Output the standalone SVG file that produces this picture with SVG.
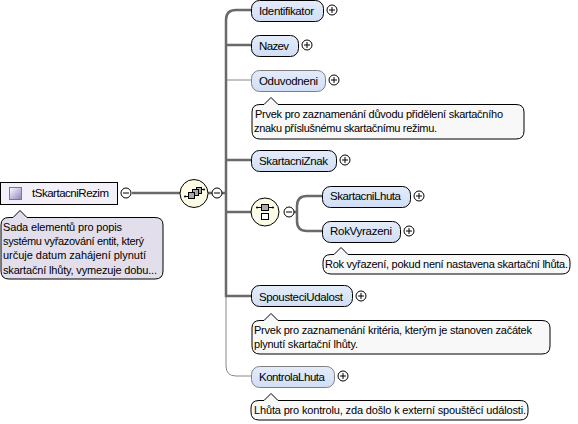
<svg xmlns="http://www.w3.org/2000/svg" width="578" height="424" viewBox="0 0 578 424">
<defs>
<linearGradient id="ic" x1="0" y1="0" x2="1" y2="1"><stop offset="0" stop-color="#ffffff"/><stop offset="1" stop-color="#9080c0"/></linearGradient>
<linearGradient id="el" x1="0" y1="0" x2="0" y2="1"><stop offset="0" stop-color="#e4ecfa"/><stop offset="1" stop-color="#d0def5"/></linearGradient>
<g id="plus"><circle r="5" fill="#fff" stroke="#000"/><path d="M-3 0H3M0-3V3" stroke="#000" fill="none"/></g>
<g id="minus"><circle r="5" fill="#fff" stroke="#000"/><path d="M-3 0H3" stroke="#000" fill="none"/></g>
</defs>
<style>
text{font-family:"Liberation Sans",Arial,sans-serif;font-size:11.5px;fill:#000}
text.d{font-size:11px}
.n{fill:url(#el);stroke:#000;stroke-width:1}
.o{fill:url(#el);stroke:#808080;stroke-width:1}
.bub{fill:#f8f8f8;stroke:#000;stroke-width:1}
.w{fill:none;stroke:#6a6a6a;stroke-width:2.500}
.t{fill:none;stroke:#888;stroke-width:1}
.c{fill:#fbfbe6;stroke:#000}
</style>
<rect width="578" height="424" fill="#fff"/>
<g id="connectors">
<path class="t" d="M226 80H251M226 296V366Q226 376 236 376H251"/>
<path class="w" d="M132 193H180M208 193H226"/>
<path class="w" d="M251 10H236Q226 10 226 20V296H251"/>
<path class="w" d="M226 45H251M226 160H251M226 212H251"/>
<path class="w" d="M322 196H307Q297 196 297 206V221Q297 231 307 231H322M294 212H297"/>
</g>
<g id="tSkartacniRezim">
<rect x="0.5" y="182.500" width="117" height="22" fill="#f4f0fa" stroke="#000"/>
<rect x="9.500" y="187.500" width="12" height="12" fill="url(#ic)" stroke="#8070b0"/>
<text x="32" y="197" textLength="77">tSkartacniRezim</text>
<use href="#minus" x="126" y="193"/>
<path d="M9 217.500H13L20 210.500L27 217.500H155Q163 217.500 163 225V271Q163 279 155 279H9Q1 279 1 271V225Q1 217.500 9 217.500Z" fill="#e3deeb" stroke="#000"/>
<text class="d" x="3" y="231" textLength="119">Sada elementů pro popis</text>
<text class="d" x="3" y="245" textLength="141">systému vyřazování entit, který</text>
<text class="d" x="3" y="259" textLength="143">určuje datum zahájení plynutí</text>
<text class="d" x="3" y="274" textLength="154">skartační lhůty, vymezuje dobu...</text>
</g>
<g id="choice-all">
<circle class="c" cx="194" cy="193.500" r="14"/>
<path d="M185 196.500H190M199 189.500H204" stroke="#000"/>
<circle cx="185" cy="196.500" r="1"/><circle cx="204" cy="189.500" r="1"/>
<rect x="196.500" y="187.500" width="5" height="6" fill="#aaa" stroke="#000"/>
<rect x="192.500" y="189.500" width="6" height="6" fill="#aaa" stroke="#000"/>
<rect x="188.500" y="192.500" width="6" height="6" fill="#aaa" stroke="#000"/>
<use href="#minus" x="217" y="193"/>
</g>
<g id="Identifikator"><rect class="n" x="251.500" y="0.500" width="72" height="21" rx="8"/><text x="259" y="15" textLength="55">Identifikator</text><use href="#plus" x="332" y="10"/></g>
<g id="Nazev"><rect class="n" x="251.500" y="35.500" width="47" height="21" rx="8"/><text x="259" y="50" textLength="30">Nazev</text><use href="#plus" x="307" y="45"/></g>
<g id="Oduvodneni"><rect class="o" x="251.500" y="70.500" width="74" height="21" rx="8"/><text x="259" y="85" textLength="59">Oduvodneni</text><use href="#plus" x="334" y="80"/>
<path class="bub" d="M260 104.500H264L271 97.500L278 104.500H516Q524 104.500 524 112V131Q524 139 516 139H260Q252 139 252 131V112Q252 104.500 260 104.500Z"/>
<text class="d" x="255" y="118" textLength="248">Prvek pro zaznamenání důvodu přidělení skartačního</text>
<text class="d" x="254" y="132" textLength="183">znaku příslušnému skartačnímu režimu.</text></g>
<g id="SkartacniZnak"><rect class="n" x="251.500" y="150.500" width="85" height="21" rx="8"/><text x="259" y="165" textLength="69">SkartacniZnak</text><use href="#plus" x="345" y="160"/></g>
<g id="sequence">
<circle class="c" cx="265" cy="212" r="14"/>
<path d="M257 207.500H273" stroke="#000"/>
<circle cx="257" cy="207.500" r="1"/><circle cx="273" cy="207.500" r="1"/>
<rect x="261.500" y="204.500" width="7" height="6" fill="#aaa" stroke="#000"/>
<rect x="261.500" y="213.500" width="7" height="6" fill="#fff" stroke="#000"/>
<use href="#minus" x="289" y="212"/>
</g>
<g id="SkartacniLhuta"><rect class="n" x="322.500" y="186.500" width="88" height="21" rx="8"/><text x="330" y="200" textLength="71">SkartacniLhuta</text><use href="#plus" x="419" y="196"/></g>
<g id="RokVyrazeni"><rect class="n" x="322.500" y="221.500" width="78" height="21" rx="8"/><text x="330" y="235" textLength="62">RokVyrazeni</text><use href="#plus" x="409" y="231"/>
<path class="bub" d="M331 254.500H334L341 247.500L348 254.500H562Q570 254.500 570 262V266Q570 274 562 274H331Q323 274 323 266V262Q323 254.500 331 254.500Z"/>
<text class="d" x="325" y="268" textLength="243">Rok vyřazení, pokud není nastavena skartační lhůta.</text></g>
<g id="SpousteciUdalost"><rect class="n" x="251.500" y="285.500" width="101" height="21" rx="8"/><text x="259" y="301" textLength="84">SpousteciUdalost</text><use href="#plus" x="361" y="296"/>
<path class="bub" d="M260 320.500H264L271 313.500L278 320.500H542Q550 320.500 550 328V346Q550 354 542 354H260Q252 354 252 346V328Q252 320.500 260 320.500Z"/>
<text class="d" x="254" y="334" textLength="278">Prvek pro zaznamenání kritéria, kterým je stanoven začátek</text>
<text class="d" x="254" y="348" textLength="104">plynutí skartační lhůty.</text></g>
<g id="KontrolaLhuta"><rect class="o" x="251.500" y="366.500" width="83" height="21" rx="8"/><text x="259" y="381" textLength="66">KontrolaLhuta</text><use href="#plus" x="343" y="376"/>
<path class="bub" d="M259 400.500H264L271 393.500L278 400.500H520Q528 400.500 528 408V412Q528 420 520 420H259Q251 420 251 412V408Q251 400.500 259 400.500Z"/>
<text class="d" x="254" y="414" textLength="272">Lhůta pro kontrolu, zda došlo k externí spouštěcí události.</text></g>
</svg>
